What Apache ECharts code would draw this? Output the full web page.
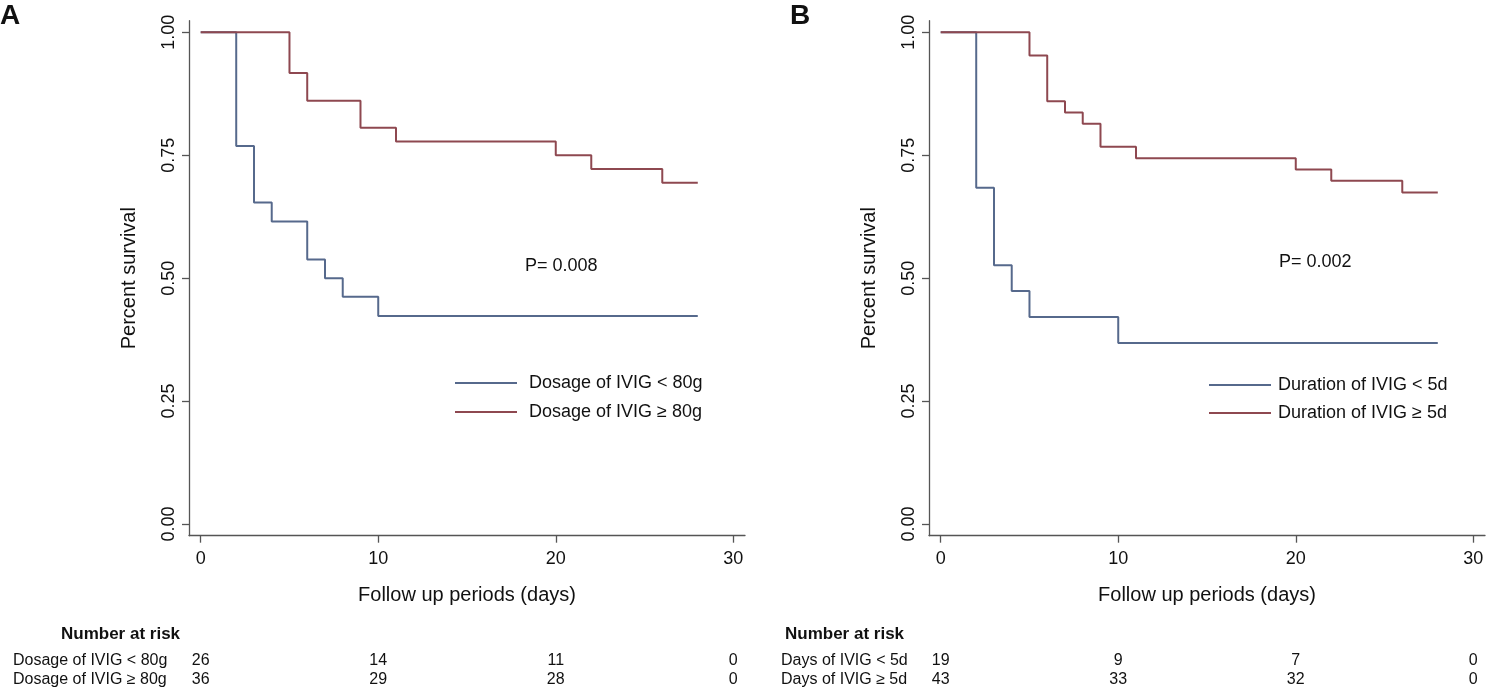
<!DOCTYPE html>
<html>
<head>
<meta charset="utf-8">
<script src="https://cdn.jsdelivr.net/npm/echarts@6/dist/echarts.min.js"></script>
<style>
  html, body { margin: 0; padding: 0; background: #fff; }
  #main { width: 1493px; height: 692px; }
</style>
</head>
<body>
<div id="main"></div>
<script>
// Kaplan-Meier step points
const timesA_low = [0, 2, 3, 4, 6, 7, 8, 10, 28]
const survA_low = [1, 0.769, 0.654, 0.615, 0.538, 0.5, 0.462, 0.423, 0.423]
const timesA_high = [0, 5, 6, 9, 11, 20, 22, 26, 28]
const survA_high = [1, 0.917, 0.861, 0.806, 0.778, 0.75, 0.722, 0.694, 0.694]

const timesB_low = [0, 2, 3, 4, 5, 10, 28]
const survB_low = [1, 0.684, 0.526, 0.474, 0.421, 0.368, 0.368]
const timesB_high = [0, 5, 6, 7, 8, 9, 11, 20, 22, 26, 28]
const survB_high = [1, 0.953, 0.860, 0.837, 0.814, 0.767, 0.744, 0.721, 0.698, 0.674, 0.674]

// legend / series names
const namesA = ['Dosage of IVIG < 80g', 'Dosage of IVIG ≥ 80g']
const namesB = ['Duration of IVIG < 5d', 'Duration of IVIG ≥ 5d']
const pValues = ['P= 0.008', 'P= 0.002']

// number at risk table
const riskTimes = [0, 10, 20, 30]
const riskLabelsA = ['Dosage of IVIG < 80g', 'Dosage of IVIG ≥ 80g']
const riskA_low = [26, 14, 11, 0]
const riskA_high = [36, 29, 28, 0]
const riskLabelsB = ['Days of IVIG < 5d', 'Days of IVIG ≥ 5d']
const riskB_low = [19, 9, 7, 0]
const riskB_high = [43, 33, 32, 0]

const xTicks = [0, 10, 20, 30]
const yTicks = [0, 0.25, 0.5, 0.75, 1]

const FONT = '"Liberation Sans", Arial, Helvetica, sans-serif'
const BLUE = '#56698c'
const RED = '#8e4850'
const AXIS = '#555'

const zip = (xs, ys) => xs.map((x, i) => [x, ys[i]])

const dom = document.getElementById('main')
const myChart = echarts.init(dom)

function xAxisFor (gi) {
  return {
    gridIndex: gi,
    type: 'value',
    min: -0.66,
    max: 30.66,
    name: 'Follow up periods (days)',
    nameLocation: 'middle',
    nameGap: 50,
    nameTextStyle: { fontSize: 20, color: '#111', fontFamily: FONT },
    axisLine: { onZero: false, lineStyle: { color: AXIS, width: 1.3 } },
    axisTick: { customValues: xTicks, length: 7, lineStyle: { color: AXIS, width: 1.3 } },
    axisLabel: { customValues: xTicks, margin: 14, fontSize: 18, color: '#111', fontFamily: FONT },
    splitLine: { show: false }
  }
}

function yAxisFor (gi) {
  return {
    gridIndex: gi,
    type: 'value',
    min: -0.0238,
    max: 1.0236,
    name: 'Percent survival',
    nameLocation: 'middle',
    nameGap: 50,
    nameTextStyle: { fontSize: 20, color: '#111', fontFamily: FONT },
    axisLine: { show: true, onZero: false, lineStyle: { color: AXIS, width: 1.3 } },
    axisTick: { show: true, customValues: yTicks, length: 7, lineStyle: { color: AXIS, width: 1.3 } },
    axisLabel: {
      customValues: yTicks,
      rotate: 90,
      margin: 11,
      fontSize: 18,
      color: '#111',
      fontFamily: FONT,
      formatter: v => v.toFixed(2)
    },
    splitLine: { show: false }
  }
}

function kmSeries (name, data, color, gi) {
  return {
    name: name,
    type: 'line',
    step: 'end',
    xAxisIndex: gi,
    yAxisIndex: gi,
    data: data,
    symbol: 'none',
    lineStyle: { color: color, width: 2 },
    itemStyle: { color: color },
    silent: true
  }
}

// plain line as legend key (no marker)
function legendFor (names, left, top, gap, textPad) {
  return {
    orient: 'vertical',
    left: left,
    top: top,
    padding: 0,
    icon: 'rect',
    itemWidth: 62,
    itemHeight: 2,
    itemGap: gap,
    data: names,
    selectedMode: false,
    textStyle: { fontSize: 18, color: '#111', fontFamily: FONT, lineHeight: 20, padding: [0, 0, 0, textPad] }
  }
}

const option = {
  animation: false,
  backgroundColor: '#fff',
  grid: [
    { left: 189, top: 20.7, width: 556, height: 515 },
    { left: 929, top: 20.7, width: 556, height: 515 }
  ],
  xAxis: [xAxisFor(0), xAxisFor(1)],
  yAxis: [yAxisFor(0), yAxisFor(1)],
  legend: [
    legendFor(namesA, 455, 373, 9, 7),
    legendFor(namesB, 1209, 375, 8, 2)
  ],
  series: [
    kmSeries(namesA[0], zip(timesA_low, survA_low), BLUE, 0),
    kmSeries(namesA[1], zip(timesA_high, survA_high), RED, 0),
    kmSeries(namesB[0], zip(timesB_low, survB_low), BLUE, 1),
    kmSeries(namesB[1], zip(timesB_high, survB_high), RED, 1)
  ]
}

myChart.setOption(option)

// texts: panel letters, p values, number-at-risk table
function txt (x, y, text, extra) {
  return {
    type: 'text',
    x: x,
    y: y,
    silent: true,
    style: Object.assign({
      text: text,
      fontFamily: FONT,
      fontSize: 16,
      fill: '#111',
      align: 'left',
      verticalAlign: 'middle'
    }, extra || {})
  }
}

const graphics = []
graphics.push(txt(0, 16, 'A', { fontSize: 28, fontWeight: 'bold' }))
graphics.push(txt(790, 16, 'B', { fontSize: 28, fontWeight: 'bold' }))
graphics.push(txt(525, 266, pValues[0], { fontSize: 18 }))
graphics.push(txt(1279, 262, pValues[1], { fontSize: 18 }))

function riskTable (gi, titleX, labelX, labels, rows) {
  graphics.push(txt(titleX, 634, 'Number at risk', { fontSize: 17, fontWeight: 'bold' }))
  const rowY = [661, 680]
  rows.forEach((vals, r) => {
    graphics.push(txt(labelX, rowY[r], labels[r], { fontSize: 16 }))
    vals.forEach((v, i) => {
      const px = myChart.convertToPixel({ xAxisIndex: gi }, riskTimes[i])
      graphics.push(txt(px, rowY[r], String(v), { fontSize: 16, align: 'center' }))
    })
  })
}
riskTable(0, 61, 13, riskLabelsA, [riskA_low, riskA_high])
riskTable(1, 785, 781, riskLabelsB, [riskB_low, riskB_high])

myChart.setOption({ graphic: graphics })
</script>
</body>
</html>
